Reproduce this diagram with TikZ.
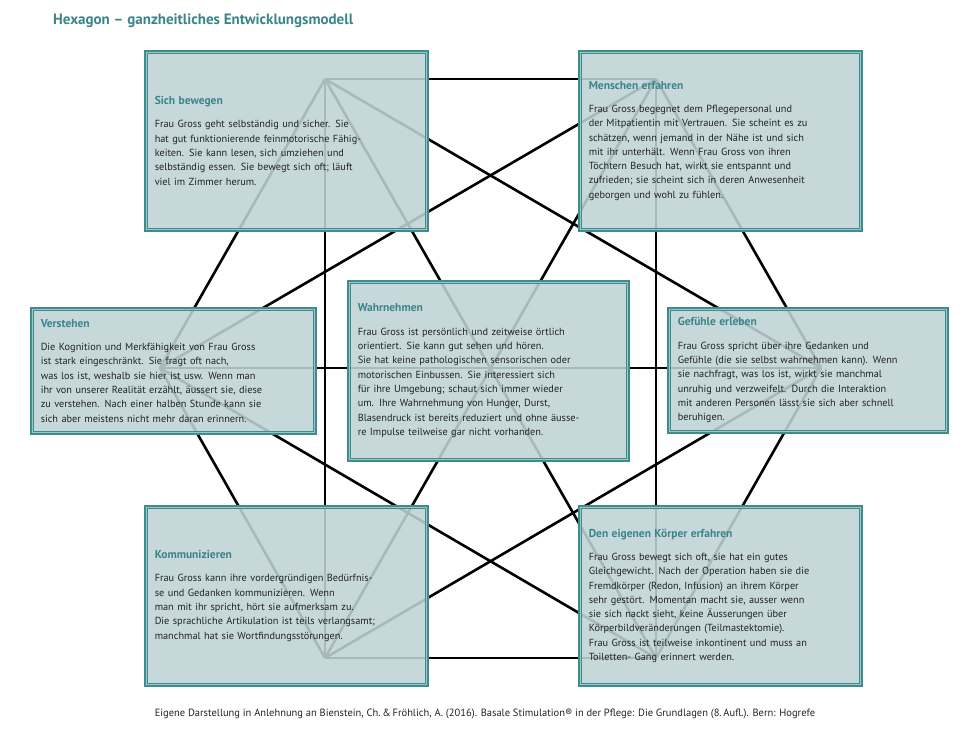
\documentclass[tikz,border=0pt]{standalone}
\usepackage{fontspec}
\setmainfont{PT Sans}
\definecolor{tealb}{HTML}{3F8C8F}
\definecolor{boxfill}{HTML}{BFD3D6}
\definecolor{heading}{HTML}{3A8589}
\definecolor{bodytxt}{HTML}{222222}
\begin{document}
\begin{tikzpicture}[x=1pt,y=-1pt,
  conn/.style={line width=2.6pt,black},
  infobox/.style={draw=tealb,line width=3.5pt,fill=boxfill,fill opacity=0.88,text opacity=1,
    anchor=north west,inner xsep=9pt,inner ysep=0pt,align=left,text=bodytxt,
    font=\fontsize{10.3}{14.3}\selectfont}]
\useasboundingbox (0,0) rectangle (970,737);
\node[anchor=west,text=heading,font=\fontsize{15}{18}\bfseries\selectfont,inner sep=0] (title) at (53,21) {Hexagon – ganzheitliches Entwicklungsmodell};
% vertices
\coordinate (TL) at (325,79);
\coordinate (TR) at (656,79);
\coordinate (R) at (821,368);
\coordinate (BR) at (656,658);
\coordinate (BL) at (325,658);
\coordinate (L) at (160,368);
\foreach \a/\b in {TL/TR,TR/R,R/BR,BR/BL,BL/L,L/TL,TL/BL,TR/BR,TL/R,TR/L,R/BL,L/BR,TL/BR,TR/BL,L/R}
  \draw[conn] (\a) -- (\b);
\newcommand{\mkbox}[7]{%
  \node[infobox,minimum width=#4-#2,minimum height=#5-#3,text width=#4-#2-18] (#1) at (#2,#3)
  {\textcolor{heading}{\fontsize{11.5}{14}\bfseries\selectfont #6}\\[9pt]#7};
  \draw[white,opacity=0.5,line width=0.8pt] ([xshift=2.6pt,yshift=-2.6pt]#1.north west) rectangle ([xshift=-2.6pt,yshift=2.6pt]#1.south east);}
\mkbox{sb}{144}{50}{425}{228}{Sich bewegen}{Frau Gross geht selbständig und sicher. Sie\\hat gut funktionierende feinmotorische Fähig-\\keiten. Sie kann lesen, sich umziehen und\\selbständig essen. Sie bewegt sich oft; läuft\\viel im Zimmer herum.}
\mkbox{me}{578}{50}{859}{228}{Menschen erfahren}{Frau Gross begegnet dem Pflegepersonal und\\der Mitpatientin mit Vertrauen. Sie scheint es zu\\schätzen, wenn jemand in der Nähe ist und sich\\mit ihr unterhält. Wenn Frau Gross von ihren\\Töchtern Besuch hat, wirkt sie entspannt und\\zufrieden; sie scheint sich in deren Anwesenheit\\geborgen und wohl zu fühlen.}
\mkbox{ve}{30}{307}{313}{431}{Verstehen}{Die Kognition und Merkfähigkeit von Frau Gross\\ist stark eingeschränkt. Sie fragt oft nach,\\was los ist, weshalb sie hier ist usw. Wenn man\\ihr von unserer Realität erzählt, äussert sie, diese\\zu verstehen. Nach einer halben Stunde kann sie\\sich aber meistens nicht mehr daran erinnern.}
\mkbox{wa}{347}{280}{626}{458}{Wahrnehmen}{Frau Gross ist persönlich und zeitweise örtlich\\orientiert. Sie kann gut sehen und hören.\\Sie hat keine pathologischen sensorischen oder\\motorischen Einbussen. Sie interessiert sich\\für ihre Umgebung; schaut sich immer wieder\\um. Ihre Wahrnehmung von Hunger, Durst,\\Blasendruck ist bereits reduziert und ohne äusse-\\re Impulse teilweise gar nicht vorhanden.}
\mkbox{ge}{667}{307}{945}{430}{Gefühle erleben}{Frau Gross spricht über ihre Gedanken und\\Gefühle (die sie selbst wahrnehmen kann). Wenn\\sie nachfragt, was los ist, wirkt sie manchmal\\unruhig und verzweifelt. Durch die Interaktion\\mit anderen Personen lässt sie sich aber schnell\\beruhigen.}
\mkbox{ko}{144}{505}{425}{683}{Kommunizieren}{Frau Gross kann ihre vordergründigen Bedürfnis-\\se und Gedanken kommunizieren. Wenn\\man mit ihr spricht, hört sie aufmerksam zu.\\Die sprachliche Artikulation ist teils verlangsamt;\\manchmal hat sie Wortfindungsstörungen.}
\mkbox{kf}{578}{505}{859}{683}{Den eigenen Körper erfahren}{Frau Gross bewegt sich oft, sie hat ein gutes\\Gleichgewicht. Nach der Operation haben sie die\\Fremdkörper (Redon, Infusion) an ihrem Körper\\sehr gestört. Momentan macht sie, ausser wenn\\sie sich nackt sieht, keine Äusserungen über\\Körperbildveränderungen (Teilmastektomie).\\Frau Gross ist teilweise inkontinent und muss an\\Toiletten- Gang erinnert werden.}
\node[font=\fontsize{10.5}{13}\selectfont,text=bodytxt,inner sep=0] (foot) at (485,714) {Eigene Darstellung in Anlehnung an Bienstein, Ch.\,\&\,Fröhlich, A. (2016). Basale Stimulation® in der Pflege: Die Grundlagen (8.\,Aufl.). Bern: Hogrefe};
\end{tikzpicture}
\end{document}
